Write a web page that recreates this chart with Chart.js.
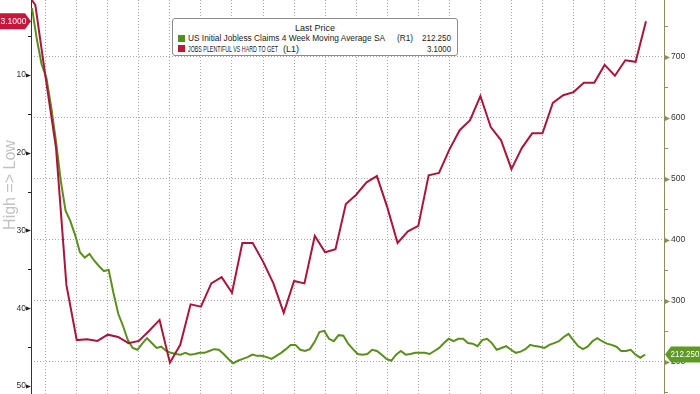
<!DOCTYPE html>
<html>
<head>
<meta charset="utf-8">
<title>Jobless claims vs jobs plentiful</title>
<script src="https://cdn.jsdelivr.net/npm/chart.js@4.4.1/dist/chart.umd.min.js"></script>
<style>
  html, body { margin: 0; padding: 0; background: #fff; }
  #wrap { position: relative; width: 700px; height: 394px; overflow: hidden; }
  #chart { position: absolute; left: 0; top: 0; }
  .legend {
    position: absolute; left: 172px; top: 18px; width: 286px; height: 38px;
    box-sizing: border-box; background: #fff; border: 1px solid #8c8c8c; border-radius: 3px;
    font-family: "Liberation Sans", Arial, sans-serif; font-size: 8.5px; color: #1a1a1a;
  }
  .legend span { position: absolute; white-space: pre; line-height: 10px; transform-origin: 0 50%; }
  .legend .sw { width: 7px; height: 7px; }
</style>
</head>
<body>
<div id="wrap">
  <canvas id="chart" width="700" height="394"></canvas>
  <div class="legend" id="legend"></div>
</div>
<script>
// JOBS PLENTIFUL VS HARD TO GET, monthly, left axis (inverted). x = months from first print
const jobsMonths = [
  0, 1, 2, 3, 4, 5, 6, 7, 8, 9, 10, 11, 12, 13, 14, 15, 16, 17, 18, 19,
  20, 21, 22, 23, 24, 25, 26, 27, 28, 29, 30, 31, 32, 33, 34, 35, 36, 37, 38, 39,
  40, 41, 42, 43, 44, 45, 46, 47, 48, 49, 50, 51, 52, 53, 54, 55, 56, 57, 58, 59, 60
];
const jobsPlentiful = [
  -0.9, 1.0, 10.4, 19.4, 37.0, 44.1, 44.0, 44.2, 43.4, 43.7,
  44.5, 44.2, 42.9, 41.5, 47.0, 44.7, 39.5, 39.8, 36.8, 36.0,
  38.0, 31.6, 31.6, 34.0, 36.8, 40.6, 36.5, 36.8, 30.7, 32.8,
  32.4, 26.6, 25.4, 23.8, 23.0, 27.0, 31.6, 30.1, 29.4, 22.9,
  22.6, 19.6, 17.1, 15.8, 12.7, 16.7, 18.4, 22.1, 19.4, 17.5,
  17.5, 13.6, 12.6, 12.2, 11.0, 11.0, 8.7, 10.1, 8.1, 8.3, 3.1
];

// US Initial Jobless Claims 4 Week Moving Average SA (thousands), read every two weeks, right axis
const claimsStartMonth = 0.68;
const claimsStepMonths = 0.4628; // two weeks
const claims4wk = [
  780, 729, 688, 666, 618, 562, 497, 448, 431, 408,
  380, 371, 377, 366, 357, 349, 351, 313, 279, 259,
  236, 223, 220, 230, 239, 231, 223, 225, 218, 215,
  213, 212, 215, 212, 213, 215, 215, 218, 221, 220,
  213, 205, 198, 202, 205, 208, 212, 210, 210, 208,
  205, 210, 215, 221, 228, 228, 220, 218, 221, 233,
  249, 251, 238, 234, 244, 243, 230, 221, 213, 212,
  213, 220, 218, 212, 205, 202, 212, 218, 212, 213,
  215, 215, 215, 213, 218, 223, 231, 238, 234, 238,
  238, 231, 230, 226, 236, 238, 231, 220, 223, 226,
  220, 215, 217, 221, 228, 226, 225, 223, 228, 231,
  234, 241, 246, 236, 226, 221, 225, 234, 239, 234,
  230, 228, 225, 218, 218, 220, 212, 207, 212.25
];

// axes
const quarterGrid = [2, 5, 8, 11, 14, 17, 20, 23, 26, 29, 32, 35, 38, 41, 44, 47, 50, 53, 56, 59];
const leftTicks = [10, 20, 30, 40, 50];
const leftMinor = [5, 15, 25, 35, 45];
const rightTicks = [200, 300, 400, 500, 600, 700];
const rightMinor = [150, 250, 350, 450, 550, 650, 750];

const seriesNames = ["US Initial Jobless Claims 4 Week Moving Average SA", "JOBS PLENTIFUL VS HARD TO GET"];

const RED = "#a8173b";
const GREEN = "#5b8e1d";
const FONT = '"Liberation Sans", Arial, sans-serif';

const claimsPoints = claims4wk.map((v, i) => ({ x: claimsStartMonth + i * claimsStepMonths, y: v }));
const jobsPoints = jobsPlentiful.map((v, i) => ({ x: jobsMonths[i], y: v }));

const lastJobs = jobsPlentiful[jobsPlentiful.length - 1];
const lastClaims = claims4wk[claims4wk.length - 1];

function drawTag(ctx, side, tipX, y, text, color) {
  ctx.beginPath();
  if (side === "left") {
    ctx.moveTo(0, y - 8);
    ctx.lineTo(tipX - 6, y - 8);
    ctx.lineTo(tipX, y);
    ctx.lineTo(tipX - 6, y + 8);
    ctx.lineTo(0, y + 8);
  } else {
    ctx.moveTo(700, y - 8);
    ctx.lineTo(tipX + 6, y - 8);
    ctx.lineTo(tipX, y);
    ctx.lineTo(tipX + 6, y + 8);
    ctx.lineTo(700, y + 8);
  }
  ctx.closePath();
  ctx.fillStyle = color;
  ctx.fill();
  ctx.fillStyle = "#fff";
  ctx.font = "9px " + FONT;
  ctx.textBaseline = "middle";
  ctx.textAlign = "center";
  const cx = side === "left" ? (tipX - 4) / 2 : (tipX + 5 + 700) / 2;
  ctx.fillText(text, cx, y + 0.5, side === "left" ? tipX - 5 : 700 - tipX - 6);
}

const decorations = {
  id: "decorations",
  afterDraw(chart) {
    const { ctx, chartArea: area, scales } = chart;
    const yL = scales.yL;
    const yR = scales.yR;
    ctx.save();

    // left axis marks
    ctx.fillStyle = "#222";
    leftMinor.forEach((v) => ctx.fillRect(area.left - 3, Math.round(yL.getPixelForValue(v)), 3, 1));
    leftTicks.forEach((v) => {
      const y = Math.round(yL.getPixelForValue(v)) + 0.5;
      ctx.beginPath();
      ctx.moveTo(area.left - 5, y - 2);
      ctx.lineTo(area.left, y);
      ctx.lineTo(area.left - 5, y + 2);
      ctx.closePath();
      ctx.fill();
    });

    // right axis marks
    ctx.fillStyle = "#8e8e5a";
    rightMinor.forEach((v) => ctx.fillRect(area.right, Math.round(yR.getPixelForValue(v)), 4, 1));
    rightTicks.forEach((v) => {
      const y = Math.round(yR.getPixelForValue(v)) + 0.5;
      ctx.beginPath();
      ctx.moveTo(area.right + 1, y - 2.5);
      ctx.lineTo(area.right + 6, y);
      ctx.lineTo(area.right + 1, y + 2.5);
      ctx.closePath();
      ctx.fill();
    });

    // axis title
    ctx.save();
    ctx.translate(11, 185);
    ctx.rotate(-Math.PI / 2);
    ctx.font = "16px " + FONT;
    ctx.fillStyle = "#c2c2c2";
    ctx.textAlign = "center";
    ctx.textBaseline = "middle";
    ctx.fillText("High => Low", 0, 0);
    ctx.restore();

    // last value tags
    drawTag(ctx, "left", area.left, yL.getPixelForValue(lastJobs), lastJobs.toFixed(4), "#c5173c");
    drawTag(ctx, "right", area.right + 1, yR.getPixelForValue(lastClaims), lastClaims.toFixed(3), "#5f9a24");
    ctx.restore();
  },
};

new Chart(document.getElementById("chart").getContext("2d"), {
  type: "line",
  data: {
    datasets: [
      {
        label: seriesNames[1],
        data: jobsPoints,
        yAxisID: "yL",
        borderColor: RED,
        borderWidth: 2,
        pointRadius: 0,
        tension: 0,
      },
      {
        label: seriesNames[0],
        data: claimsPoints,
        yAxisID: "yR",
        borderColor: GREEN,
        borderWidth: 2,
        pointRadius: 0,
        tension: 0,
      },
    ],
  },
  options: {
    responsive: false,
    animation: false,
    devicePixelRatio: 1,
    layout: { padding: 0 },
    plugins: {
      legend: { display: false },
      tooltip: { enabled: false },
    },
    scales: {
      x: {
        type: "linear",
        min: 0.58,
        max: 61.74,
        ticks: { display: false },
        grid: { color: "#a8a8a8", drawTicks: false },
        border: { display: false, dash: [1, 2] },
        afterBuildTicks: (scale) => {
          scale.ticks = quarterGrid.map((v) => ({ value: v }));
        },
        afterFit: (scale) => {
          scale.height = 0;
          scale.paddingLeft = 0;
          scale.paddingRight = 0;
        },
      },
      yL: {
        type: "linear",
        position: "left",
        reverse: true,
        min: 0.354,
        max: 51.03,
        grid: { display: false, drawTicks: false },
        border: { display: true, color: "#333", width: 1 },
        ticks: { color: "#333", padding: 5, font: { size: 8.5, family: FONT } },
        afterBuildTicks: (scale) => {
          scale.ticks = leftTicks.map((v) => ({ value: v }));
        },
        afterFit: (scale) => {
          scale.width = 31;
          scale.paddingTop = 0;
          scale.paddingBottom = 0;
        },
      },
      yR: {
        type: "linear",
        position: "right",
        min: 147.5,
        max: 793.4,
        grid: { color: "#a8a8a8", drawTicks: false },
        border: { display: true, color: "#8e8e5a", width: 1, dash: [1, 2] },
        ticks: { color: "#333", padding: 7, font: { size: 8.5, family: FONT } },
        afterBuildTicks: (scale) => {
          scale.ticks = rightTicks.map((v) => ({ value: v }));
        },
        afterFit: (scale) => {
          scale.width = 36;
          scale.paddingTop = 0;
          scale.paddingBottom = 0;
        },
      },
    },
  },
  plugins: [decorations],
});

// legend box (positions relative to the box's inner top-left at 173,19)
const legend = document.getElementById("legend");

function addText(text, left, top, width, anchor) {
  const s = document.createElement("span");
  s.textContent = text;
  legend.appendChild(s);
  const natural = s.getBoundingClientRect().width;
  s.style.transform = "scaleX(" + width / natural + ")";
  let x = left;
  if (anchor === "center") x = left - width / 2;
  if (anchor === "right") x = left - width;
  s.style.left = x + "px";
  s.style.top = top + "px";
  return s;
}

function addSwatch(color, left, top) {
  const s = document.createElement("span");
  s.className = "sw";
  s.style.background = color;
  s.style.left = left + "px";
  s.style.top = top + "px";
  legend.appendChild(s);
}

addText("Last Price", 142, 4, 40, "center");
addSwatch("#4f8f1f", 5, 15.5);
addText(seriesNames[0], 15, 13.5, 197);
addText("(R1)", 224, 13.5, 16);
addText(lastClaims.toFixed(3), 278, 13.5, 29, "right");
addSwatch("#c0182f", 5, 26);
addText(seriesNames[1], 15, 24.5, 90);
addText("(L1)", 110, 24.5, 16);
addText(lastJobs.toFixed(4), 278, 24.5, 24, "right");
</script>
</body>
</html>
